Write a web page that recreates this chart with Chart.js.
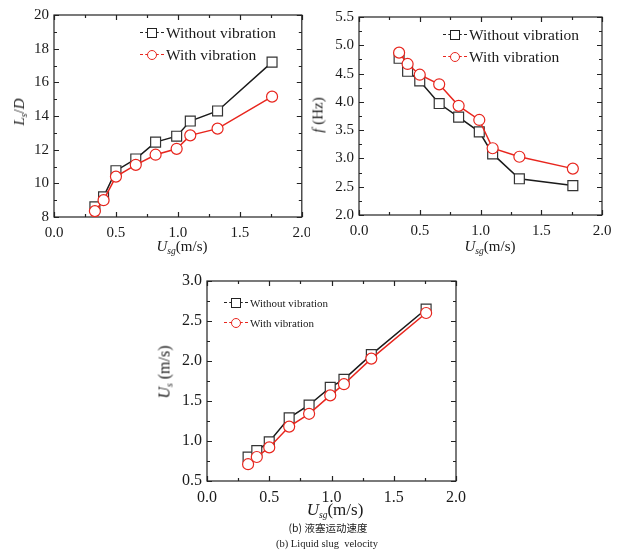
<!DOCTYPE html>
<html>
<head>
<meta charset="utf-8">
<script src="https://cdn.jsdelivr.net/npm/chart.js@4/dist/chart.umd.min.js"></script>
<style>
body{margin:0;background:#fff;width:618px;height:554px;position:relative;overflow:hidden;font-family:"Liberation Serif","Times New Roman",serif;color:#1a1a1a}
canvas{position:absolute}
.t{position:absolute;white-space:nowrap;font-size:15px;transform:translate(-50%,-50%)}
.t.rot{transform:translate(-50%,-50%) rotate(-90deg)}
.t i{font-style:italic}
.t sub{font-size:9.5px;font-style:italic;vertical-align:-3px}
.row{position:absolute;white-space:nowrap;font-size:15.5px;height:22px;line-height:22px}
.sym{display:inline-block;position:relative;width:24px;height:22px;vertical-align:top;margin-right:2px}
.sym:before{content:"";position:absolute;left:0;right:0;top:10px;border-top:1.5px dashed currentColor}
.sym b{position:absolute;left:7px;top:6px;width:8px;height:8px;border:1.3px solid currentColor;background:#fff}
.sym.c b{border-radius:50%}
.small{font-size:11px}
.cap{position:absolute;white-space:nowrap;font-size:10.5px;transform:translate(-50%,-50%)}
</style>
</head>
<body>
<canvas id="c1" width="310" height="240" style="left:0;top:0"></canvas>
<canvas id="c2" width="308" height="240" style="left:310px;top:0"></canvas>
<canvas id="c3" width="300" height="240" style="left:170px;top:262px"></canvas>

<div class="t rot" style="left:20px;top:112px"><i>L</i><sub>s</sub>/<i>D</i></div>
<div class="t" style="left:182px;top:247px"><i>U</i><sub>sg</sub>(m/s)</div>
<div class="t rot" style="left:318px;top:115px"><i>f</i> (Hz)</div>
<div class="t" style="left:490px;top:247px"><i>U</i><sub>sg</sub>(m/s)</div>
<div class="t rot" style="left:165px;top:372px;font-size:16px"><i>U</i><sub>s</sub> (m/s)</div>
<div class="t" style="left:335px;top:510px;font-size:17px"><i>U</i><sub>sg</sub>(m/s)</div>

<div class="row" style="left:140px;top:22px"><span class="sym" style="color:#222"><b></b></span>Without vibration</div>
<div class="row" style="left:140px;top:44px"><span class="sym c" style="color:#e8261e"><b></b></span>With vibration</div>
<div class="row" style="left:443px;top:24px"><span class="sym" style="color:#222"><b></b></span>Without vibration</div>
<div class="row" style="left:443px;top:46px"><span class="sym c" style="color:#e8261e"><b></b></span>With vibration</div>
<div class="row small" style="left:224px;top:292px"><span class="sym" style="color:#222"><b></b></span>Without vibration</div>
<div class="row small" style="left:224px;top:312px"><span class="sym c" style="color:#e8261e"><b></b></span>With vibration</div>

<div class="cap" style="left:328px;top:527px;font-family:'Noto Sans CJK SC',sans-serif">(b) 液塞运动速度</div>
<div class="cap" style="left:327px;top:543px">(b) Liquid slug&nbsp; velocity</div>

<script>
// gas superficial velocity (m/s)
const usg = [0.33, 0.40, 0.50, 0.66, 0.82, 0.99, 1.10, 1.32, 1.76];
// slug length L_s/D
const lsdWithout = [8.6, 9.2, 10.75, 11.45, 12.45, 12.8, 13.7, 14.3, 17.2];
const lsdWith    = [8.35, 9.0, 10.4, 11.1, 11.7, 12.05, 12.85, 13.25, 15.15];
// slug frequency (Hz)
const freqWithout = [4.77, 4.54, 4.37, 3.97, 3.73, 3.47, 3.08, 2.64, 2.52];
const freqWith    = [4.87, 4.67, 4.48, 4.31, 3.93, 3.68, 3.18, 3.03, 2.82];
// slug velocity U_s (m/s)
const velWithout = [0.80, 0.88, 0.99, 1.29, 1.45, 1.67, 1.77, 2.08, 2.65];
const velWith    = [0.71, 0.80, 0.92, 1.18, 1.34, 1.57, 1.71, 2.03, 2.60];

const xTicks = [0, 0.5, 1.0, 1.5, 2.0];
const lsdTicks = [8, 10, 12, 14, 16, 18, 20];
const freqTicks = [2.0, 2.5, 3.0, 3.5, 4.0, 4.5, 5.0, 5.5];
const velTicks = [0.5, 1.0, 1.5, 2.0, 2.5, 3.0];

// box round the plot with inward major + minor ticks on all four sides
const frame = {
  id: 'frame',
  beforeDatasetsDraw(chart) {
    const {ctx, chartArea: a, scales: {x, y}} = chart;
    ctx.save();
    ctx.strokeStyle = '#222';
    ctx.lineWidth = 1.2;
    ctx.strokeRect(a.left, a.top, a.right - a.left, a.bottom - a.top);
    ctx.beginPath();
    const xt = x.ticks.map(t => t.value);
    for (let i = 0; i < xt.length; i++) {
      const vals = [xt[i]];
      if (i < xt.length - 1) vals.push((xt[i] + xt[i + 1]) / 2);
      vals.forEach((v, k) => {
        const px = Math.round(x.getPixelForValue(v)) + 0.5;
        const len = k == 0 ? 5 : 3;
        ctx.moveTo(px, a.bottom); ctx.lineTo(px, a.bottom - len);
        ctx.moveTo(px, a.top); ctx.lineTo(px, a.top + len);
      });
    }
    const yt = y.ticks.map(t => t.value);
    for (let i = 0; i < yt.length; i++) {
      const vals = [yt[i]];
      if (i < yt.length - 1) vals.push((yt[i] + yt[i + 1]) / 2);
      vals.forEach((v, k) => {
        const py = Math.round(y.getPixelForValue(v)) + 0.5;
        const len = k == 0 ? 5 : 3;
        ctx.moveTo(a.left, py); ctx.lineTo(a.left + len, py);
        ctx.moveTo(a.right, py); ctx.lineTo(a.right - len, py);
      });
    }
    ctx.stroke();
    ctx.restore();
  }
};

function makeChart(id, blackVals, redVals, yTicks, yDigits, box, fontSize) {
  const toPts = vals => usg.map((u, i) => ({x: u, y: vals[i]}));
  const font = {family: '"Liberation Serif","Times New Roman",serif', size: fontSize};
  return new Chart(document.getElementById(id), {
    type: 'line',
    data: {
      datasets: [
        {label: 'With vibration', data: toPts(redVals), borderColor: '#e8261e', borderWidth: 1.5,
         pointStyle: 'circle', pointRadius: 5.5, pointBorderWidth: 1.2,
         pointBackgroundColor: '#fff', pointBorderColor: '#e8261e', tension: 0},
        {label: 'Without vibration', data: toPts(blackVals), borderColor: '#1a1a1a', borderWidth: 1.5,
         pointStyle: 'rect', pointRadius: 7, pointBorderWidth: 1.2,
         pointBackgroundColor: '#fff', pointBorderColor: '#333', tension: 0}
      ]
    },
    options: {
      responsive: false,
      animation: false,
      layout: {padding: {left: 0, top: box.top, right: box.right, bottom: 0}},
      plugins: {legend: {display: false}, tooltip: {enabled: false}},
      scales: {
        x: {
          type: 'linear', min: xTicks[0], max: xTicks[xTicks.length - 1],
          afterBuildTicks: s => { s.ticks = xTicks.map(v => ({value: v})); },
          afterFit: s => { s.height = box.xh; s.paddingLeft = 0; s.paddingRight = 0; },
          grid: {display: false, drawTicks: false}, border: {display: false},
          ticks: {color: '#1a1a1a', font: font, padding: 7, maxRotation: 0,
                  callback: v => Number(v).toFixed(1)}
        },
        y: {
          type: 'linear', min: yTicks[0], max: yTicks[yTicks.length - 1],
          afterBuildTicks: s => { s.ticks = yTicks.map(v => ({value: v})); },
          afterFit: s => { s.width = box.yw; s.paddingTop = 0; s.paddingBottom = 0; },
          grid: {display: false, drawTicks: false}, border: {display: false},
          ticks: {color: '#1a1a1a', font: font, padding: 5,
                  callback: v => Number(v).toFixed(yDigits)}
        }
      }
    },
    plugins: [frame]
  });
}

makeChart('c1', lsdWithout, lsdWith, lsdTicks, 0, {top: 15, right: 8, xh: 23, yw: 54}, 15);
makeChart('c2', freqWithout, freqWith, freqTicks, 1, {top: 17, right: 16, xh: 25, yw: 49}, 15);
makeChart('c3', velWithout, velWith, velTicks, 1, {top: 19, right: 14, xh: 21, yw: 37}, 16);
</script>
</body>
</html>
